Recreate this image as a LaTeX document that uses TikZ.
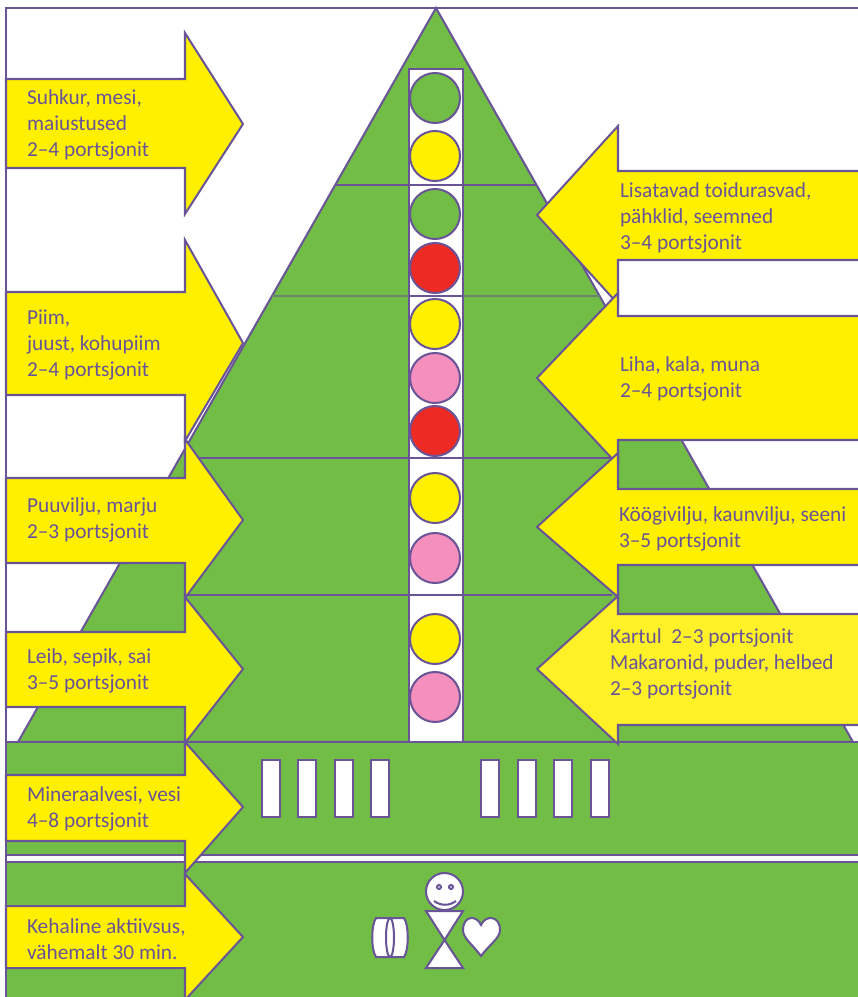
\documentclass[tikz,border=0pt]{standalone}
\usepackage{fontspec}
\setmainfont{Carlito}
\definecolor{lilla}{RGB}{104,84,150}
\definecolor{puu}{RGB}{114,189,69}
\definecolor{kollane}{RGB}{255,240,0}
\definecolor{kahvatu}{RGB}{255,241,40}
\definecolor{punane}{RGB}{238,42,36}
\definecolor{roosa}{RGB}{244,143,190}

\begin{document}
\begin{tikzpicture}[x=0.02cm, y=-0.02cm, line width=1.15pt]
  \tikzset{
    piir/.style={draw=lilla, line join=miter},
    puustyle/.style={piir, fill=puu},
    ketas/.style={piir, circle, minimum size=1cm, inner sep=0pt},
    nool/.style={piir, fill=kollane},
    pulk/.style={piir, fill=white},
    silt/.style={anchor=west, align=left, text=lilla, inner sep=0pt, font=\fontsize{12.15}{14.9}\selectfont},
  }
  \path [use as bounding box, clip] (0,0) rectangle (858,997);

  \draw [piir] (6,1100) -- (6,8) -- (900,8);
  % the tree and its levels
  \draw [puustyle] (436,8) -- (853,742) -- (18,742) -- cycle;
  \draw [draw=lilla, line width=0.7pt] (335,185) -- (537,185);
  \draw [draw=lilla!55!puu, line width=0.7pt] (272,296) -- (600,296);
  \draw [piir] (188,458) -- (612,458);
  \draw [piir] (188,595) -- (612,595);

  \draw [pulk] (409,69) rectangle (463,742);
  \foreach \yy in {185,296,458,595}
    \draw [piir] (409,\yy) -- (463,\yy);

  \node [ketas, fill=puu] (k1) at (435,98) {};
  \node [ketas, fill=kollane] (k2) at (435,156) {};
  \node [ketas, fill=puu] (k3) at (435,214) {};
  \node [ketas, fill=punane] (k4) at (435,268) {};
  \node [ketas, fill=kollane] (k5) at (435,324) {};
  \node [ketas, fill=roosa] (k6) at (435,378) {};
  \node [ketas, fill=punane] (k7) at (435,431) {};
  \node [ketas, fill=kollane] (k8) at (435,498) {};
  \node [ketas, fill=roosa] (k9) at (435,558) {};
  \node [ketas, fill=kollane] (k10) at (435,639) {};
  \node [ketas, fill=roosa] (k11) at (435,697) {};

  % water and activity
  \draw [puustyle] (6,742) rectangle (900,855);
  \draw [puustyle] (6,862) rectangle (900,1100);
  \foreach \xx in {262,298,335,371,481,518,554,591}
    \draw [pulk] (\xx,760) rectangle ++(18,57);

  \draw [pulk] (444.5,891.5) circle [radius=18.5];
  \draw [pulk] (439,887) circle [radius=2];
  \draw [pulk] (451,887) circle [radius=2];
  \draw [piir] (434,901) .. controls (441,906) and (449,906) .. (456,901);
  \draw [pulk] (426,911) -- (463,911) -- (444.5,940) -- cycle;
  \draw [pulk] (444.5,940) -- (463,968) -- (426,968) -- cycle;
  \draw [pulk] (481,956) .. controls (472,944) and (463,938) .. (463,930)
    .. controls (463,915) and (477,915) .. (481,925)
    .. controls (485,915) and (500,915) .. (500,930)
    .. controls (500,938) and (490,944) .. (481,956) -- cycle;
  \draw [pulk] (376,918) -- (404,918) .. controls (409,925) and (409,950) .. (404,957)
    -- (376,957) .. controls (371,950) and (371,925) .. (376,918) -- cycle;
  \draw [pulk] (390,937.5) ellipse [x radius=4, y radius=19.5];

  % arrows from the left
  \draw [nool] (6,79) -- (185,79) -- (185,33) -- (243,124) -- (185,214) -- (185,168) -- (6,168) -- cycle;
  \draw [nool] (6,292) -- (185,292) -- (185,240) -- (243,343) -- (185,441) -- (185,395) -- (6,395) -- cycle;
  \draw [nool] (6,478) -- (185,478) -- (185,439) -- (243,520) -- (185,598) -- (185,563) -- (6,563) -- cycle;
  \draw [nool] (6,632) -- (185,632) -- (185,597) -- (243,669) -- (185,743) -- (185,707) -- (6,707) -- cycle;
  \draw [nool] (6,775) -- (185,775) -- (185,742) -- (243,807) -- (185,873) -- (185,841) -- (6,841) -- cycle;
  \draw [nool] (6,906) -- (185,906) -- (185,874) -- (243,937) -- (185,1000) -- (185,968) -- (6,968) -- cycle;

  % arrows from the right
  \draw [nool] (900,171) -- (618,171) -- (618,126) -- (537,215) -- (618,304) -- (618,260) -- (900,260);
  \draw [nool] (900,316) -- (618,316) -- (618,293) -- (537,378) -- (618,465) -- (618,440) -- (900,440);
  \draw [nool] (900,489) -- (618,489) -- (618,453) -- (537,527) -- (618,597) -- (618,565) -- (900,565);
  \draw [nool, fill=kahvatu] (900,614) -- (618,614) -- (618,596) -- (537,669) -- (618,744) -- (618,725) -- (900,725);

  \node [silt] (suhkur) at (26,125) {Suhkur, mesi,\\maiustused\\2–4 portsjonit};
  \node [silt] (piim) at (26,345) {Piim,\\juust, kohupiim\\2–4 portsjonit};
  \node [silt] (puuvili) at (26,520) {Puuvilju, marju\\2–3 portsjonit};
  \node [silt] (leib) at (26,671) {Leib, sepik, sai\\3–5 portsjonit};
  \node [silt] (vesi) at (26,809) {Mineraalvesi, vesi\\4–8 portsjonit};
  \node [silt] (keha) at (26,939) {Kehaline aktiivsus,\\vähemalt 30 min.};
  \node [silt] (rasv) at (619,218) {Lisatavad toidurasvad,\\pähklid, seemned\\3–4 portsjonit};
  \node [silt] (liha) at (619,379) {Liha, kala, muna\\2–4 portsjonit};
  \node [silt] (aedvili) at (618,529) {Köögivilju, kaunvilju, seeni\\3–5 portsjonit};
  \node [silt] (kartul) at (609,664) {Kartul\ \ 2–3 portsjonit\\Makaronid, puder, helbed\\2–3 portsjonit};
\end{tikzpicture}
\end{document}
